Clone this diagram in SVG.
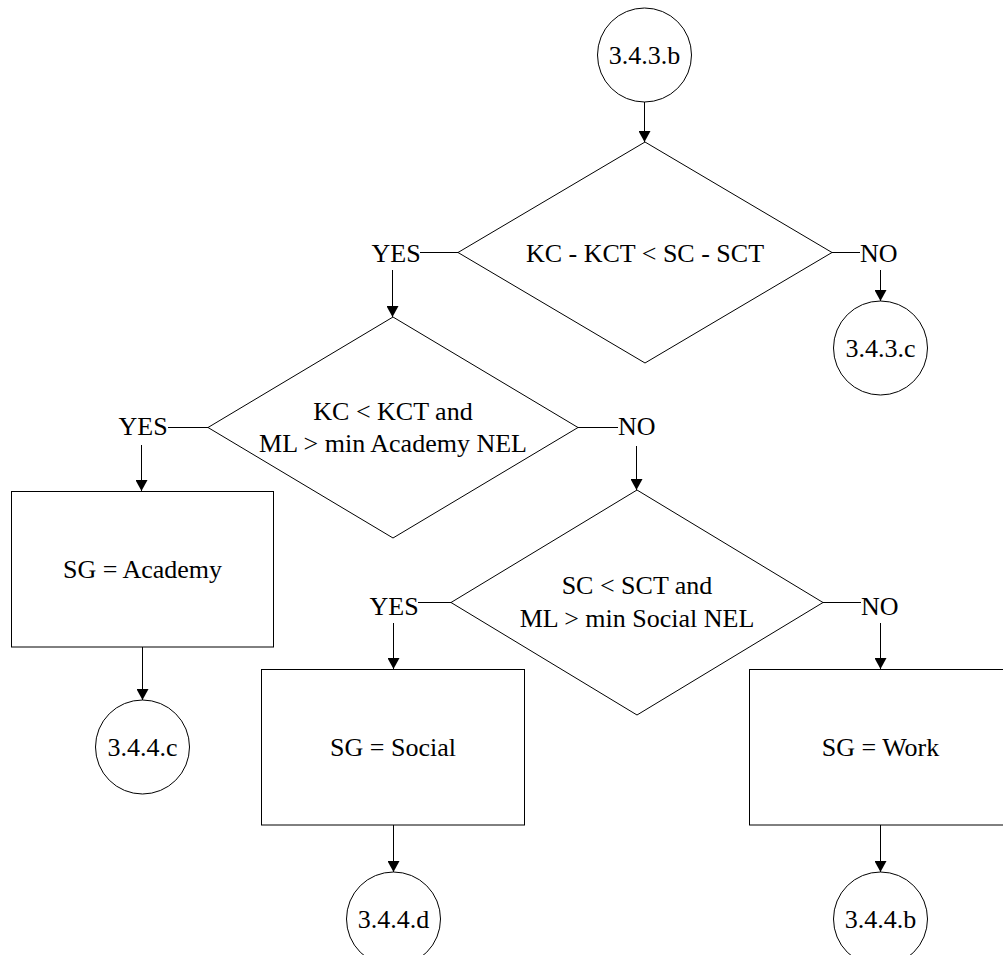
<svg xmlns="http://www.w3.org/2000/svg" width="1003" height="965" viewBox="0 0 1003 965">
  <style>
    .shape { fill: #ffffff; stroke: #000000; stroke-width: 1; }
    .label { font-family: "Liberation Serif", "Times New Roman", serif; font-size: 26px; fill: #000000; }
    .mid { text-anchor: middle; }
    .wire { fill: none; stroke: #000000; stroke-width: 1; }
    .arrow { marker-end: url(#head); }
  </style>
  <defs>
    <marker id="head" markerUnits="userSpaceOnUse" viewBox="0 0 11 12" markerWidth="11" markerHeight="12" refX="11" refY="6" orient="auto">
      <path d="M0,0 L11,6 L0,12 z" fill="#000000"/>
    </marker>
    <!-- page area: the chart runs off the lower edge -->
    <clipPath id="page">
      <rect x="0" y="0" width="1003" height="955"/>
    </clipPath>
  </defs>
  <rect width="1003" height="965" fill="#ffffff"/>

  <g clip-path="url(#page)" font-family="Liberation Serif, Times New Roman, serif">
  <!-- connectors, branch labels included -->
  <g id="connectors">
    <line class="wire arrow" x1="644.5" y1="102" x2="644.5" y2="142"/>
    <!-- decision 1 -->
    <line class="wire" x1="458" y1="252.5" x2="420" y2="252.5"/>
    <text class="label" x="371.5" y="262">YES</text>
    <line class="wire arrow" x1="392.5" y1="270" x2="392.5" y2="317"/>
    <line class="wire" x1="832" y1="252.5" x2="860" y2="252.5"/>
    <text class="label" x="860" y="262">NO</text>
    <line class="wire arrow" x1="880.5" y1="270" x2="880.5" y2="301"/>
    <!-- decision 2 -->
    <line class="wire" x1="208" y1="427.5" x2="168" y2="427.5"/>
    <text class="label" x="118.5" y="435">YES</text>
    <line class="wire arrow" x1="141.5" y1="445" x2="141.5" y2="491"/>
    <line class="wire" x1="578" y1="427.5" x2="618" y2="427.5"/>
    <text class="label" x="618" y="435">NO</text>
    <line class="wire arrow" x1="636.5" y1="446" x2="636.5" y2="490"/>
    <!-- decision 3 -->
    <line class="wire" x1="451" y1="602.5" x2="418" y2="602.5"/>
    <text class="label" x="369.5" y="615">YES</text>
    <line class="wire arrow" x1="393.5" y1="623" x2="393.5" y2="669"/>
    <line class="wire" x1="823" y1="602.5" x2="861" y2="602.5"/>
    <text class="label" x="861" y="615">NO</text>
    <line class="wire arrow" x1="880.5" y1="623" x2="880.5" y2="669"/>
    <!-- process boxes to off-page references -->
    <line class="wire arrow" x1="142.5" y1="647" x2="142.5" y2="700"/>
    <line class="wire arrow" x1="393.5" y1="825" x2="393.5" y2="872"/>
    <line class="wire arrow" x1="880.5" y1="825" x2="880.5" y2="872"/>
  </g>

  <!-- entry reference -->
  <g id="ref-343b">
    <circle class="shape" cx="644.5" cy="55" r="47"/>
    <text class="label mid" x="644.5" y="63.5">3.4.3.b</text>
  </g>

  <g id="decision-1">
    <polygon class="shape" points="645,142 832,252.5 645,363 458,252.5"/>
    <text class="label mid" x="645" y="261.5">KC - KCT &lt; SC - SCT</text>
  </g>

  <g id="ref-343c">
    <circle class="shape" cx="880.5" cy="348" r="47"/>
    <text class="label mid" x="880.5" y="356.5">3.4.3.c</text>
  </g>

  <g id="decision-2">
    <polygon class="shape" points="393,317 578,427.5 393,538 208,427.5"/>
    <text class="label mid" x="393" y="419.5">KC &lt; KCT and</text>
    <text class="label mid" x="393" y="452">ML &gt; min Academy NEL</text>
  </g>

  <g id="box-academy">
    <rect class="shape" x="11.5" y="491.5" width="262" height="155.5"/>
    <text class="label mid" x="142.5" y="577.5">SG = Academy</text>
  </g>

  <g id="ref-344c">
    <circle class="shape" cx="142.5" cy="747" r="47"/>
    <text class="label mid" x="142.5" y="755.5">3.4.4.c</text>
  </g>

  <g id="decision-3">
    <polygon class="shape" points="637,490 823,602.5 637,715 451,602.5"/>
    <text class="label mid" x="637" y="594">SC &lt; SCT and</text>
    <text class="label mid" x="637" y="626.5">ML &gt; min Social NEL</text>
  </g>

  <g id="box-social">
    <rect class="shape" x="261.5" y="669.5" width="263" height="155.5"/>
    <text class="label mid" x="393" y="755.5">SG = Social</text>
  </g>

  <g id="box-work">
    <rect class="shape" x="749.5" y="669.5" width="263" height="155.5"/>
    <text class="label mid" x="880.5" y="755.5">SG = Work</text>
  </g>

  <g id="ref-344d">
    <circle class="shape" cx="393.5" cy="919" r="47"/>
    <text class="label mid" x="393.5" y="927.5">3.4.4.d</text>
  </g>

  <g id="ref-344b">
    <circle class="shape" cx="880.5" cy="919" r="47"/>
    <text class="label mid" x="880.5" y="927.5">3.4.4.b</text>
  </g>
  </g>
</svg>
